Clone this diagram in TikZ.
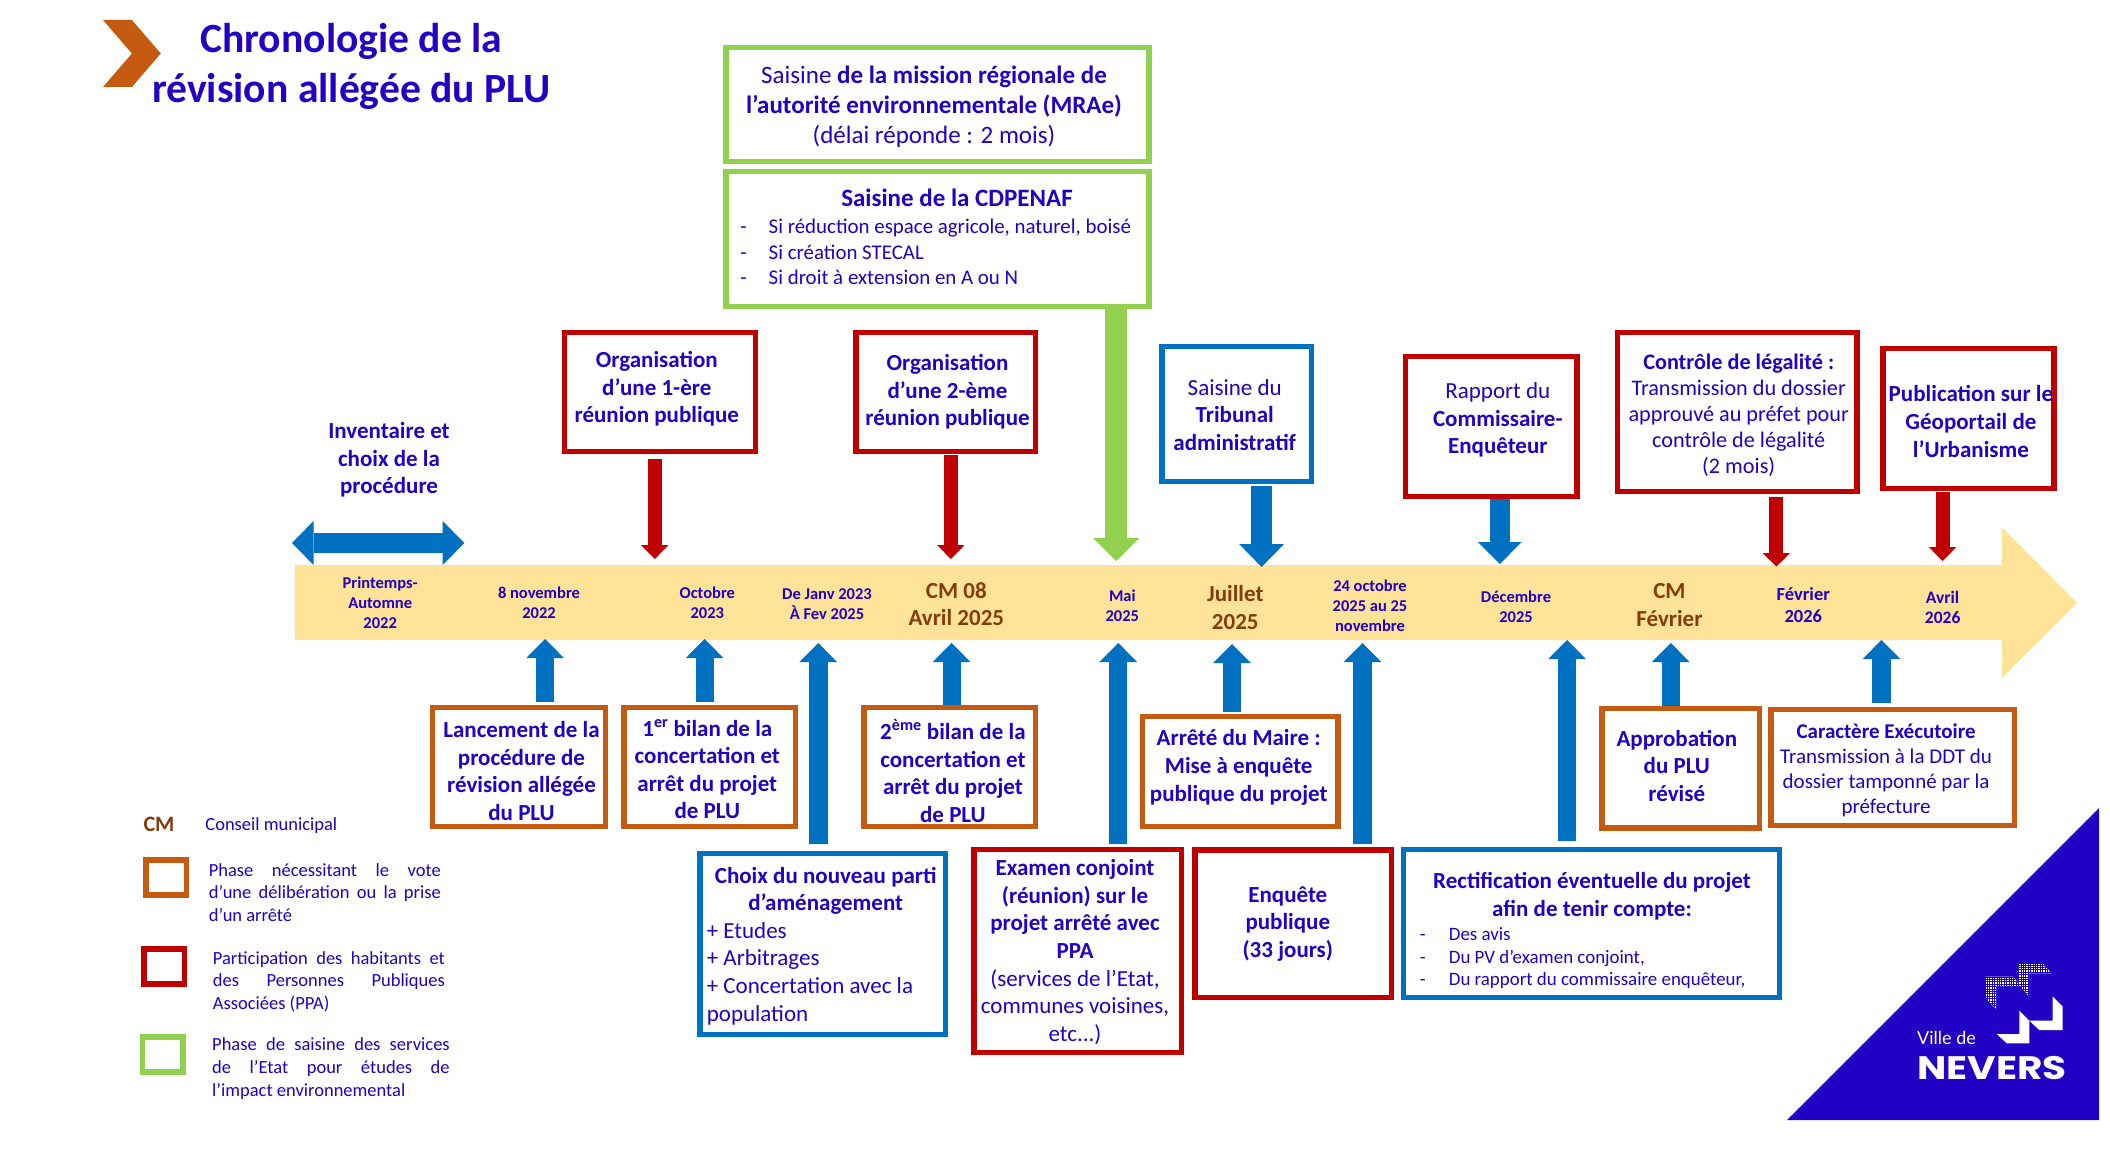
\documentclass[tikz,border=0pt]{standalone}
\usepackage{fontspec}
\setmainfont{Carlito}
\newfontfamily\logofont{Lato}
\newfontfamily\logobold{Poppins}
\usetikzlibrary{arrows.meta}
\definecolor{ink}{HTML}{2200C4}
\definecolor{brn}{HTML}{843C0C}
\definecolor{bluex}{HTML}{0070C0}
\definecolor{redx}{HTML}{C00000}
\definecolor{grnx}{HTML}{92D050}
\definecolor{orgx}{HTML}{C55A11}
\definecolor{yelx}{HTML}{FFE398}
\tikzset{
  bxs/.style={draw,line width=5.5pt,inner sep=0pt,fill=none},
  fb/.style 2 args={text=ink,inner sep=0pt,align=center,font=\fontsize{#1}{#2}\selectfont\bfseries},
  fr/.style 2 args={text=ink,inner sep=0pt,align=center,font=\fontsize{#1}{#2}\selectfont},
  fl/.style 2 args={text=ink,inner sep=0pt,align=left,anchor=west,font=\fontsize{#1}{#2}\selectfont},
  fbrn/.style={text=brn,inner sep=0pt,align=center,font=\fontsize{23}{27.5}\selectfont\bfseries},
  dates/.style={text=ink,inner sep=0pt,align=center,font=\fontsize{16.5}{19.8}\selectfont\bfseries},
}
\newcommand\bx[6]{\node[bxs,draw=#2,minimum width={(#5-#3)*1pt},minimum height={(#6-#4)*1pt}] (#1) at ({(#3+#5)/2},{(#4+#6)/2}) {};}
% colour, shaft width, head width, head length, from, to
\newcommand\blk[7][0]{\draw[#2,line width=#3pt,shorten <=#1pt,-{Triangle[length=#5pt,width=#4pt,line width=0pt]}] (#6) -- (#7);}
\newcommand\jl[2]{\makebox[#1pt][s]{#2}}
\begin{document}
\begin{tikzpicture}[x=1pt,y=-1pt]
\useasboundingbox[fill=white] (0,0) rectangle (2110,1156);

% chevron and title
\fill[orgx] (103,20) -- (131.9,20) -- (160.8,53.5) -- (131.9,87) -- (103,87) -- (131.9,53.5) -- cycle;
\node[fb={41.6}{49.8}] (title) at (351.3,66.5) {Chronologie de la\\révision allégée du PLU};

% timeline band
\fill[yelx] (294.8,565) -- (2001.8,565) -- (2001.8,527.5) -- (2077.2,603) -- (2001.8,678) -- (2001.8,640) -- (294.8,640) -- cycle;

% upper boxes
\bx{mrae}{grnx}{726.2}{47.5}{1149.1}{161.5}
\bx{cdp}{grnx}{726.2}{171.5}{1149.1}{306.5}
\bx{reun1}{redx}{564.6}{332.5}{755.6}{451.5}
\bx{reun2}{redx}{856}{332.5}{1035.6}{451.5}
\bx{trib}{bluex}{1162}{346.5}{1311.4}{481.5}
\bx{rapp}{redx}{1405.7}{356.5}{1577.2}{496.5}
\bx{ctrl}{redx}{1617.7}{332.5}{1857}{491.5}
\bx{publ}{redx}{1882.8}{348.5}{2054.2}{488.5}

% lower boxes
\bx{lanc}{orgx}{432.7}{707.5}{605.6}{826.5}
\bx{bil1}{orgx}{623.9}{707.5}{795.3}{826.5}
\bx{bil2}{orgx}{864.1}{707.5}{1035.6}{826.5}
\bx{choix}{bluex}{700}{853.5}{945.4}{1034.5}
\bx{exam}{redx}{973.9}{849.5}{1181.4}{1052.5}
\bx{arre}{orgx}{1142.6}{716.5}{1338.2}{826.5}
\bx{enqu}{redx}{1195}{850}{1391.4}{997.5}
\bx{rect}{bluex}{1403.6}{849.5}{1779.7}{997.5}
\bx{appr}{orgx}{1602.1}{708.5}{1759.5}{828}
\bx{cara}{orgx}{1771}{709.5}{2014.5}{825.5}

% arrow end points on the timeline
\coordinate (pL) at (292,543);
\coordinate (pR) at (464.3,543);
\coordinate (tR1) at (654.8,559);
\coordinate (tR2) at (950.9,559);
\coordinate (tG) at (1116.2,561);
\coordinate (tB1) at (1261.6,567);
\coordinate (tB2) at (1499.8,564);
\coordinate (tR3) at (1776.4,566.5);
\coordinate (tR4) at (1942.6,561);
\coordinate (uA1) at (545.1,639);
\coordinate (uA2) at (704.6,639);
\coordinate (uA3) at (818.3,643);
\coordinate (uA4) at (951.6,643);
\coordinate (uA5) at (1118.3,643);
\coordinate (uA6) at (1232,644);
\coordinate (uA7) at (1362.5,643);
\coordinate (uA8) at (1567.1,640);
\coordinate (uA9) at (1670.8,643);
\coordinate (uA10) at (1881.4,640);

% arrows
\draw[bluex,line width=20pt,{Triangle[length=21.6pt,width=44pt,line width=0pt]}-{Triangle[length=21.6pt,width=44pt,line width=0pt]}] (pL) -- (pR);
\blk[5]{redx}{14}{27.6}{14}{reun1.south -| tR1}{tR1}
\blk[1]{redx}{14}{27.6}{14}{reun2.south -| tR2}{tR2}
\blk{grnx}{22.2}{46.4}{23}{cdp.south -| tG}{tG}
\blk[2]{bluex}{21.5}{45}{23}{trib.south -| tB1}{tB1}
\blk{bluex}{19.5}{43.7}{22}{rapp.south -| tB2}{tB2}
\blk[3]{redx}{14}{27.6}{13.5}{ctrl.south -| tR3}{tR3}
\blk[1]{redx}{14}{27.6}{14}{publ.south -| tR4}{tR4}

\blk[3]{bluex}{18.2}{37.7}{19}{lanc.north -| uA1}{uA1}
\blk[3]{bluex}{18.2}{37.7}{19}{bil1.north -| uA2}{uA2}
\blk[7]{bluex}{18.8}{37.7}{19}{choix.north -| uA3}{uA3}
\blk{bluex}{18.2}{37.7}{19}{bil2.north -| uA4}{uA4}
\blk[3]{bluex}{18.2}{37.7}{19}{exam.north -| uA5}{uA5}
\blk[2]{bluex}{18.2}{37.7}{19}{arre.north -| uA6}{uA6}
\blk[3]{bluex}{18.2}{37.7}{19}{enqu.north -| uA7}{uA7}
\blk[6]{bluex}{18.2}{37.7}{19}{rect.north -| uA8}{uA8}
\blk{bluex}{18.2}{37.7}{19}{appr.north -| uA9}{uA9}
\blk[4]{bluex}{18.2}{37.7}{19}{cara.north -| uA10}{uA10}

% upper box texts
\node[fr={25}{30}] (mraet) at (934,107) {Saisine \textbf{de la mission régionale de}\\\textbf{l’autorité environnementale (MRAe)}\\(délai réponde : 2 mois)};
\node[fb={25}{30}] (cdpt) at (957,198) {Saisine de la CDPENAF};
\node[fl={20.9}{25.2}] (cdpl) at (740.2,252) {\makebox[28.3pt][l]{-}Si réduction espace agricole, naturel, boisé\\\makebox[28.3pt][l]{-}Si création STECAL\\\makebox[28.3pt][l]{-}Si droit à extension en A ou N};
\node[fb={23}{27.7}] (inv) at (389,460) {Inventaire et\\choix de la\\procédure};
\node[fb={23}{27.5}] (reun1t) at (656.8,389) {Organisation\\d’une 1-ère\\réunion publique};
\node[fb={23}{27.5}] (reun2t) at (947.5,392) {Organisation\\d’une 2-ème\\réunion publique};
\node[fb={23}{27.5}] (tribt) at (1234.7,415) {{\mdseries Saisine du}\\Tribunal\\administratif};
\node[fb={23}{27.5}] (rappt) at (1497.8,420) {{\mdseries Rapport du}\\Commissaire-\\Enquêteur};
\node[fr={22.2}{26}] (ctrlt) at (1738.7,415.5) {\textbf{Contrôle de légalité :}\\Transmission du dossier\\approuvé au préfet pour\\contrôle de légalité\\(2 mois)};
\node[fb={23}{27.7}] (publt) at (1970.9,421.5) {Publication sur le\\Géoportail de\\l’Urbanisme};

% lower box texts
\node[fb={23}{27.5}] (lanct) at (521.5,771) {Lancement de la\\procédure de\\révision allégée\\du PLU};
\node[fb={23}{27.5}] (bil1t) at (707.3,769) {1\textsuperscript{er} bilan de la\\concertation et\\arrêt du projet\\de PLU};
\node[fb={23}{27.5}] (bil2t) at (952.9,771) {2\textsuperscript{ème} bilan de la\\concertation et\\arrêt du projet\\de PLU};
\node[fb={23}{27.7}] (choixt) at (825.7,891) {Choix du nouveau parti\\d’aménagement};
\node[fl={23}{27.7}] (choixl) at (706.6,973.5) {+ Etudes\\+ Arbitrages\\+ Concertation avec la\\population};
\node[fr={23}{27.7}] (examt) at (1075,952) {\textbf{Examen conjoint}\\\textbf{(réunion) sur le}\\\textbf{projet arrêté avec}\\\textbf{PPA}\\(services de l’Etat,\\communes voisines,\\etc...)};
\node[fb={23}{27.7}] (arret) at (1238.7,767.5) {Arrêté du Maire :\\Mise à enquête\\publique du projet};
\node[fb={23}{27.7}] (enqut) at (1287.8,924) {Enquête\\publique\\(33 jours)};
\node[fb={23}{28}] (rectt) at (1592,896) {Rectification éventuelle du projet\\afin de tenir compte:};
\node[fl={18.9}{22.5}] (rectl) at (1419.7,958.5) {\makebox[29pt][l]{-}Des avis\\\makebox[29pt][l]{-}Du PV d’examen conjoint,\\\makebox[29pt][l]{-}Du rapport du commissaire enquêteur,};
\node[fb={23}{27.5}] (apprt) at (1676.8,765.5) {Approbation\\du PLU\\révisé};
\node[fr={21}{25.1}] (carat) at (1886.1,770) {\textbf{Caractère Exécutoire}\\Transmission à la DDT du\\dossier tamponné par la\\préfecture};

% dates on the band
\node[dates] (d1) at (380.2,603) {Printemps-\\Automne\\2022};
\node[dates] (d2) at (539,603) {8 novembre\\2022};
\node[dates] (d3) at (707.3,603) {Octobre\\2023};
\node[dates] (d4) at (827,604) {De Janv 2023\\À Fev 2025};
\node[fbrn] (d5) at (956.3,604) {CM 08\\Avril 2025};
\node[dates] (d6) at (1122.3,606) {Mai\\2025};
\node[fbrn] (d7) at (1235.3,607.5) {Juillet\\2025};
\node[dates] (d8) at (1370,606) {24 octobre\\2025 au 25\\novembre};
\node[dates] (d9) at (1516,607) {Décembre\\2025};
\node[fbrn] (d10) at (1669.4,605) {CM\\Février};
\node[fb={18.5}{21.5}] (d11) at (1803.3,605) {Février\\2026};
\node[fb={17.5}{20}] (d12) at (1942.6,607) {Avril\\2026};

% legend
\node[text=brn,inner sep=0pt,font=\fontsize{22}{26}\selectfont\bfseries] (lcm) at (159,824) {CM};
\node[fl={18.5}{22}] (lcmt) at (205.2,825.5) {Conseil municipal};
\bx{lor}{orgx}{146}{860}{186.4}{895}
\bx{lre}{redx}{144}{949}{184.3}{984}
\bx{lgr}{grnx}{142.7}{1037}{183}{1072}
\node[fl={18.5}{22.6}] (lort) at (208.6,892.5) {\jl{232}{Phase nécessitant le vote}\\\jl{232}{d’une délibération ou la prise}\\d’un arrêté};
\node[fl={18.5}{22.6}] (lret) at (212.7,981.5) {\jl{232}{Participation des habitants et}\\\jl{232}{des Personnes Publiques}\\Associées (PPA)};
\node[fl={18.5}{22.6}] (lgrt) at (212,1068.5) {\jl{237.5}{Phase de saisine des services}\\\jl{237.5}{de l’Etat pour études de}\\l’impact environnemental};

% logo corner
\fill[ink] (2099,808) -- (2099,1120) -- (1787.2,1120) -- cycle;
\begin{scope}
  \clip (2019,964) -- (2043.3,964) -- (2051.7,973.3) -- (2029,973.3) -- (2029,996.7) -- (2019,985) -- cycle;
  \fill[white] (2010,960) rectangle (2060,1000);
  \draw[ink,line width=.4pt,step=2.4pt] (2010,960) grid (2060,1000);
\end{scope}
\begin{scope}
  \clip (1986,976.7) -- (2013.3,976.7) -- (2020,986) -- (1996,986) -- (1996,1009.3) -- (1986,998.3) -- cycle;
  \fill[white] (1980,970) rectangle (2025,1012);
  \draw[ink,line width=.4pt,step=2.4pt] (1980,970) grid (2025,1012);
\end{scope}
\fill[white] (2052.7,996.7) -- (2062.7,1006.7) -- (2062.7,1030) -- (2039.3,1030) -- (2029.3,1020.7) -- (2052.7,1020.7) -- cycle;
\fill[white] (2019.3,1010.7) -- (2029.3,1020.7) -- (2029.3,1043.3) -- (2006.7,1043.3) -- (1996.7,1034) -- (2019.3,1034) -- cycle;
\node[text=white,inner sep=0pt,anchor=base west,font=\logofont\fontsize{18}{22}\selectfont] (ville) at (1917,1044) {Ville de};
\node[text=white,inner sep=0pt,anchor=base west,font=\logobold\fontsize{32.5}{36}\selectfont\bfseries] (nev) at (1917,1079) {\scalebox{1.2}[1]{NEVERS}};
\end{tikzpicture}
\end{document}
